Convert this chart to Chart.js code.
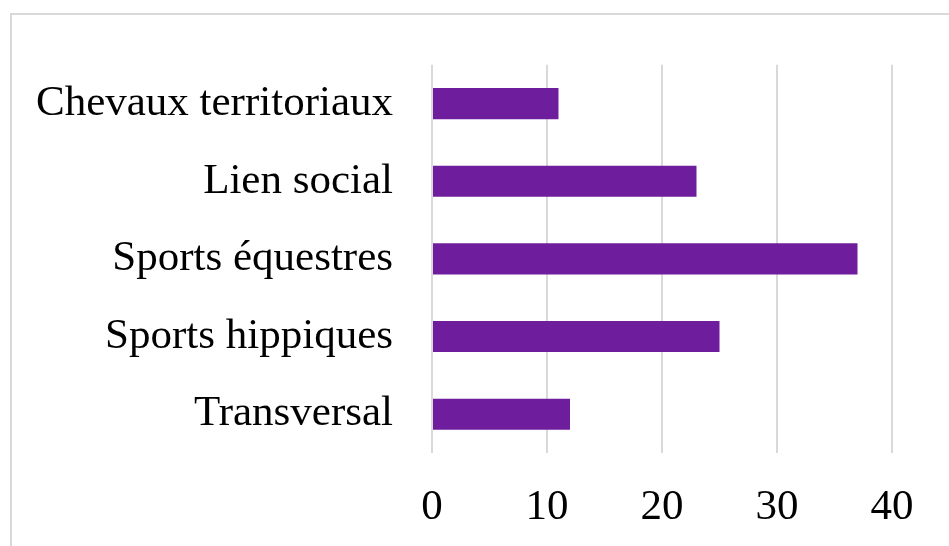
<!DOCTYPE html>
<html>
<head>
<meta charset="utf-8">
<script src="https://cdn.jsdelivr.net/npm/chart.js@4.4.1/dist/chart.umd.min.js"></script>
<style>
  html, body { margin: 0; padding: 0; background: #ffffff; overflow: hidden; }
  #frame { position: absolute; left: 10px; top: 13px; width: 1000px; height: 600px; border: 2px solid #d9d9d9; box-sizing: border-box; }
  #wrap { position: absolute; left: 0; top: 0; width: 949px; height: 546px; }
</style>
</head>
<body>
<div id="frame"></div>
<div id="wrap"><canvas id="c" width="949" height="546"></canvas></div>
<script>
const categories = ["Chevaux territoriaux", "Lien social", "Sports équestres", "Sports hippiques", "Transversal"];
const values = [11, 23, 37, 25, 12];
const xTicks = [0, 10, 20, 30, 40];

const serif = "'Liberation Serif', 'Times New Roman', serif";

new Chart(document.getElementById('c'), {
  type: 'bar',
  data: {
    labels: categories,
    datasets: [{
      data: values,
      backgroundColor: '#6E1E9D',
      borderWidth: 0,
      barPercentage: 0.4,
      categoryPercentage: 1.0
    }]
  },
  options: {
    indexAxis: 'y',
    responsive: false,
    animation: false,
    layout: { padding: { top: 62, right: 57, left: 0, bottom: 0 } },
    plugins: { legend: { display: false }, tooltip: { enabled: false } },
    scales: {
      x: {
        min: xTicks[0],
        max: xTicks[xTicks.length - 1],
        afterBuildTicks: (s) => { s.ticks = xTicks.map(v => ({ value: v })); },
        grid: { color: '#d9d9d9', lineWidth: 2, drawTicks: false },
        border: { display: false },
        ticks: { color: '#000', font: { family: serif, size: 43 }, padding: 29 },
        afterFit: (s) => { s.height = 93; }
      },
      y: {
        grid: { display: false, drawTicks: false },
        border: { display: false },
        ticks: { color: '#000', font: { family: serif, size: 43 }, padding: 39 },
        afterFit: (s) => { s.width = 432; }
      }
    }
  }
});
</script>
</body>
</html>
